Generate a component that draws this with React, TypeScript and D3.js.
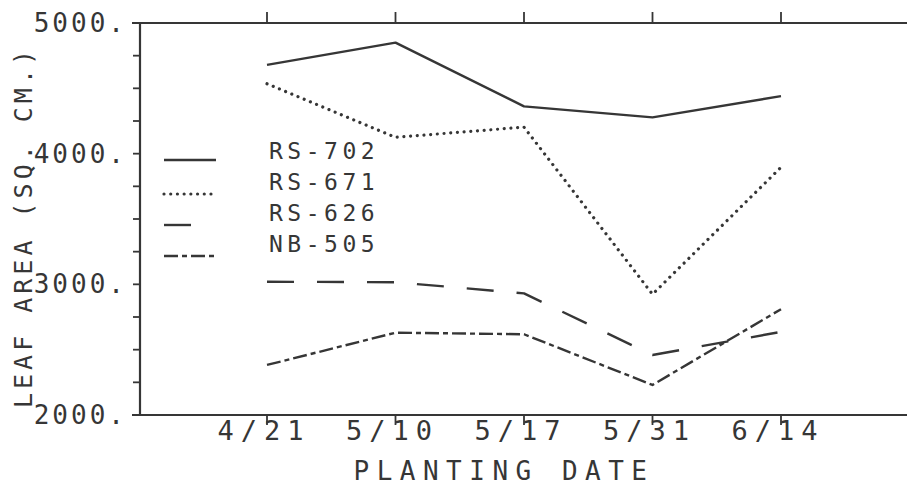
import React from 'react';
import * as d3 from 'd3';

const dates = ['4/21', '5/10', '5/17', '5/31', '6/14'];
const seriesNames = ['RS-702', 'RS-671', 'RS-626', 'NB-505'];
const rs702 = [4680, 4850, 4362, 4278, 4440];
const rs671 = [4535, 4125, 4203, 2924, 3896];
const rs626 = [3020, 3016, 2931, 2459, 2636];
const nb505 = [2383, 2630, 2618, 2230, 2810];
const yMajorTicks = [2000, 3000, 4000, 5000];
const yTickLabels = ['2000.', '3000.', '4000.', '5000.'];
const xTitle = 'PLANTING DATE';
const yTitle = 'LEAF AREA (SQ. CM.)';

const W = 907;
const H = 493;
const INK = '#363636';
const FONT = '"DejaVu Sans Mono", monospace';

const styles = [
  { dash: null, width: 2.4, cap: 'butt' },
  { dash: '0.01 6.7', width: 3.2, cap: 'round' },
  { dash: '27 23', width: 2.4, cap: 'butt' },
  { dash: '14 4 5 4', width: 2.4, cap: 'butt' },
];

export default function App() {
  const x = d3.scalePoint<string>().domain(dates).range([138.5, 909.5]).padding(1);
  const y = d3.scaleLinear().domain([2000, 5000]).range([415, 23]);
  const minorTicks = d3.range(2000, 5001, 250);
  const all = [rs702, rs671, rs626, nb505];
  const line = d3
    .line<number>()
    .x((_, i) => x(dates[i]) as number)
    .y((d) => y(d));

  const x0 = 140;
  const xRight = 907;
  const yTop = y(5000);
  const yBot = y(2000);

  return (
    <svg
      width={W}
      height={H}
      style={{ position: 'absolute', left: 0, top: 0, display: 'block', background: '#fff' }}
    >
      <rect x={0} y={0} width={W} height={H} fill="#fff" />
      {/* frame */}
      <line x1={x0} x2={x0} y1={yTop} y2={yBot} stroke={INK} strokeWidth={2.2} />
      <line x1={x0 - 8} x2={xRight} y1={yTop} y2={yTop} stroke={INK} strokeWidth={2} />
      <line x1={x0 - 8} x2={xRight} y1={yBot} y2={yBot} stroke={INK} strokeWidth={2} />
      {/* y ticks */}
      {minorTicks.map((t) => (
        <line key={'yt' + t} x1={x0 - 7} x2={x0} y1={y(t)} y2={y(t)} stroke={INK} strokeWidth={1.8} />
      ))}
      {yMajorTicks.map((t, i) => (
        <text
          key={'yl' + t}
          x={127}
          y={y(t) + 9}
          textAnchor="end"
          fontFamily={FONT}
          fontSize={26}
          letterSpacing={3}
          fill={INK}
        >
          {yTickLabels[i]}
        </text>
      ))}
      {/* x ticks */}
      {dates.map((d) => (
        <g key={'xt' + d}>
          <line x1={x(d)} x2={x(d)} y1={yTop - 11} y2={yTop} stroke={INK} strokeWidth={1.8} />
          <line x1={x(d)} x2={x(d)} y1={yBot} y2={yBot + 10} stroke={INK} strokeWidth={1.8} />
          <text
            x={(x(d) as number) - 3}
            y={440}
            textAnchor="middle"
            fontFamily={FONT}
            fontSize={27}
            letterSpacing={7}
            fill={INK}
          >
            {d}
          </text>
        </g>
      ))}
      <text x={504} y={480} textAnchor="middle" fontFamily={FONT} fontSize={26} letterSpacing={7.5} fill={INK}>
        {xTitle}
      </text>
      <text
        transform="translate(32,227) rotate(-90)"
        textAnchor="middle"
        fontFamily={FONT}
        fontSize={25}
        letterSpacing={4}
        fill={INK}
      >
        {yTitle}
      </text>
      {/* series */}
      {all.map((s, i) => (
        <path
          key={'s' + i}
          d={line(s) as string}
          fill="none"
          stroke={INK}
          strokeWidth={styles[i].width}
          strokeDasharray={styles[i].dash ?? undefined}
          strokeLinecap={styles[i].cap as any}
          strokeLinejoin="round"
        />
      ))}
      {/* legend */}
      {seriesNames.map((n, i) => {
        const by = 159 + i * 31;
        return (
          <g key={'lg' + n}>
            <line
              x1={164}
              x2={i === 2 ? 191 : 216}
              y1={by + (i === 0 ? 1 : 4)}
              y2={by + (i === 0 ? 1 : 4)}
              stroke={INK}
              strokeWidth={styles[i].width}
              strokeDasharray={i === 2 ? undefined : styles[i].dash ?? undefined}
              strokeLinecap={styles[i].cap as any}
            />
            <text x={269} y={by} fontFamily={FONT} fontSize={23} letterSpacing={4.5} fill={INK}>
              {n}
            </text>
          </g>
        );
      })}
    </svg>
  );
}
